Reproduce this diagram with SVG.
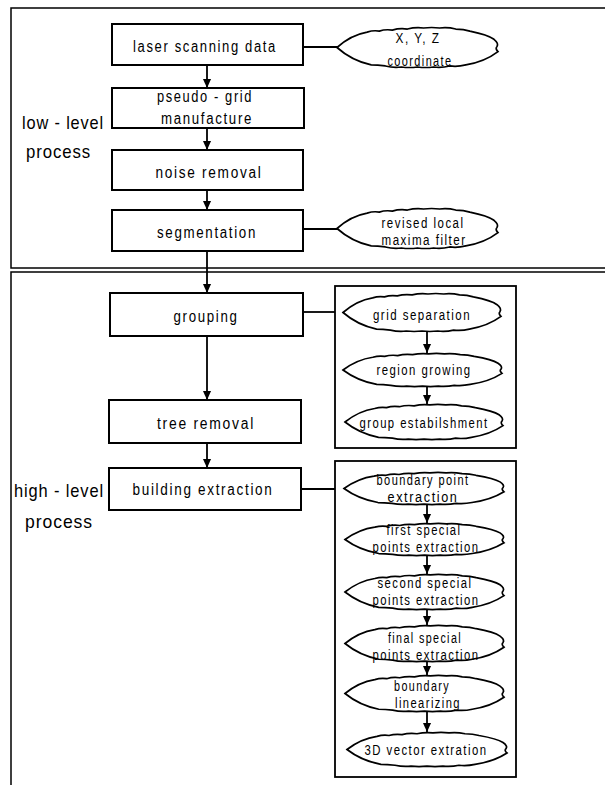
<svg xmlns="http://www.w3.org/2000/svg" xmlns:xlink="http://www.w3.org/1999/xlink" width="605" height="785" viewBox="0 0 605 785">
<style>
.frame{fill:none;stroke:#000;stroke-width:1.5}
.box{fill:#fff;stroke:#000;stroke-width:2}
.sub{fill:#fff;stroke:#000;stroke-width:1.8}
.cloud{fill:#fff;stroke:#000;stroke-width:1.7;vector-effect:non-scaling-stroke}
.ln{fill:none;stroke:#000;stroke-width:1.8}
.t{font-family:"Liberation Sans",Arial,sans-serif;font-size:16px;letter-spacing:2px;text-anchor:middle;fill:#000}
.c{font-family:"Liberation Sans",Arial,sans-serif;font-size:14px;letter-spacing:1.8px;text-anchor:middle;fill:#000}
.lab{font-family:"Liberation Sans",Arial,sans-serif;font-size:19px;letter-spacing:1px;fill:#000}
</style>
<defs>
<marker id="ah" viewBox="0 0 10 10" refX="10" refY="5" markerWidth="5" markerHeight="5" orient="auto" markerUnits="strokeWidth">
<path d="M0,0.5 L10,5 L0,9.5 Z" fill="#000"/>
</marker>
<symbol id="cl" viewBox="0 0 160 40" preserveAspectRatio="none" overflow="visible">
<path class="cloud" d="M0,20 C8,13 18,7 30,5 Q36,3 42,4 Q48,2 55,3 Q62,1 70,2 Q78,0 86,1 Q94,0 102,1 Q110,0 118,2 Q126,2 132,4 C142,6 152,9 156,12 Q161,16 159,19 Q157,21 160,24 C152,30 140,35 128,37 Q120,39 112,38 Q104,40 96,39 Q88,40 80,39 Q72,40 64,39 Q56,40 48,38 Q40,37 34,37 C20,34 8,27 0,20 Z"/>
</symbol>
</defs>
<rect width="605" height="785" fill="#fff"/>
<g id="frames">
<rect class="frame" x="11" y="8" width="700" height="260"/>
<rect class="frame" x="11" y="272" width="700" height="600"/>
<rect class="sub" x="335" y="286" width="181" height="162"/>
<rect class="sub" x="335" y="461" width="181" height="316"/>
</g>
<g id="labels">
<text class="lab" x="22" y="129" textLength="82" lengthAdjust="spacingAndGlyphs">low - level</text>
<text class="lab" x="26" y="158" textLength="65" lengthAdjust="spacingAndGlyphs">process</text>
<text class="lab" x="14" y="497" textLength="90" lengthAdjust="spacingAndGlyphs">high - level</text>
<text class="lab" x="25" y="528" textLength="68" lengthAdjust="spacingAndGlyphs">process</text>
</g>
<g id="connectors">
<line class="ln" x1="207" y1="65" x2="207" y2="88" marker-end="url(#ah)"/>
<line class="ln" x1="207" y1="128" x2="207" y2="150" marker-end="url(#ah)"/>
<line class="ln" x1="207" y1="190" x2="207" y2="210" marker-end="url(#ah)"/>
<line class="ln" x1="207" y1="251" x2="207" y2="293" marker-end="url(#ah)"/>
<line class="ln" x1="207" y1="336" x2="207" y2="400" marker-end="url(#ah)"/>
<line class="ln" x1="207" y1="443" x2="207" y2="468" marker-end="url(#ah)"/>
<line class="ln" x1="303" y1="47" x2="338" y2="47"/>
<line class="ln" x1="303" y1="229" x2="338" y2="229"/>
<line class="ln" x1="303" y1="312" x2="335" y2="312"/>
<line class="ln" x1="301" y1="489" x2="335" y2="489"/>
<line class="ln" x1="427" y1="332" x2="427" y2="353" marker-end="url(#ah)"/>
<line class="ln" x1="427" y1="387" x2="427" y2="404" marker-end="url(#ah)"/>
<line class="ln" x1="427" y1="505" x2="427" y2="523" marker-end="url(#ah)"/>
<line class="ln" x1="427" y1="556" x2="427" y2="574" marker-end="url(#ah)"/>
<line class="ln" x1="427" y1="610" x2="427" y2="625" marker-end="url(#ah)"/>
<line class="ln" x1="427" y1="662" x2="427" y2="675" marker-end="url(#ah)"/>
<line class="ln" x1="427" y1="712" x2="427" y2="732" marker-end="url(#ah)"/>
</g>
<g id="n-laser"><rect class="box" x="112" y="24" width="191" height="41"/><text class="t" x="205" y="52" textLength="144" lengthAdjust="spacingAndGlyphs">laser scanning data</text></g>
<g id="n-pseudo"><rect class="box" x="112" y="88" width="192" height="40"/><text class="t" x="205" y="102" textLength="96" lengthAdjust="spacingAndGlyphs">pseudo - grid</text><text class="t" x="207" y="124" textLength="92" lengthAdjust="spacingAndGlyphs">manufacture</text></g>
<g id="n-noise"><rect class="box" x="112" y="150" width="191" height="40"/><text class="t" x="209" y="178" textLength="107" lengthAdjust="spacingAndGlyphs">noise removal</text></g>
<g id="n-seg"><rect class="box" x="112" y="210" width="191" height="41"/><text class="t" x="207" y="238" textLength="100" lengthAdjust="spacingAndGlyphs">segmentation</text></g>
<g id="n-group"><rect class="box" x="110" y="293" width="193" height="43"/><text class="t" x="206" y="322" textLength="65" lengthAdjust="spacingAndGlyphs">grouping</text></g>
<g id="n-tree"><rect class="box" x="109" y="400" width="192" height="43"/><text class="t" x="206" y="429" textLength="98" lengthAdjust="spacingAndGlyphs">tree removal</text></g>
<g id="n-build"><rect class="box" x="109" y="468" width="192" height="42"/><text class="t" x="203" y="495" textLength="141" lengthAdjust="spacingAndGlyphs">building extraction</text></g>
<g id="e-xyz"><use xlink:href="#cl" x="337" y="27" width="161" height="41"/><text class="c" x="418" y="43" textLength="45" lengthAdjust="spacingAndGlyphs">X, Y, Z</text><text class="c" x="420" y="66" textLength="65" lengthAdjust="spacingAndGlyphs">coordinate</text></g>
<g id="e-rev"><use xlink:href="#cl" x="337" y="208" width="161" height="41"/><text class="c" x="423" y="228" textLength="83" lengthAdjust="spacingAndGlyphs">revised local</text><text class="c" x="424" y="245" textLength="85" lengthAdjust="spacingAndGlyphs">maxima filter</text></g>
<g id="e-grid"><use xlink:href="#cl" x="343" y="293" width="158" height="39"/><text class="c" x="422" y="320" textLength="98" lengthAdjust="spacingAndGlyphs">grid separation</text></g>
<g id="e-region"><use xlink:href="#cl" x="343" y="353" width="159" height="34"/><text class="c" x="424" y="375" textLength="95" lengthAdjust="spacingAndGlyphs">region growing</text></g>
<g id="e-gest"><use xlink:href="#cl" x="345" y="404" width="158" height="36"/><text class="c" x="424" y="428" textLength="129" lengthAdjust="spacingAndGlyphs">group estabilshment</text></g>
<g id="e-bpe"><use xlink:href="#cl" x="344" y="472" width="160" height="33"/><text class="c" x="423" y="485" textLength="93" lengthAdjust="spacingAndGlyphs">boundary point</text><text class="c" x="423" y="502" textLength="71" lengthAdjust="spacingAndGlyphs">extraction</text></g>
<g id="e-first"><use xlink:href="#cl" x="345" y="523" width="159" height="33"/><text class="c" x="424" y="535" textLength="75" lengthAdjust="spacingAndGlyphs">first special</text><text class="c" x="426" y="552" textLength="107" lengthAdjust="spacingAndGlyphs">points extraction</text></g>
<g id="e-second"><use xlink:href="#cl" x="345" y="574" width="159" height="36"/><text class="c" x="425" y="588" textLength="95" lengthAdjust="spacingAndGlyphs">second special</text><text class="c" x="426" y="605" textLength="107" lengthAdjust="spacingAndGlyphs">points extraction</text></g>
<g id="e-final"><use xlink:href="#cl" x="345" y="625" width="159" height="37"/><text class="c" x="425" y="643" textLength="74" lengthAdjust="spacingAndGlyphs">final special</text><text class="c" x="426" y="660" textLength="107" lengthAdjust="spacingAndGlyphs">points extraction</text></g>
<g id="e-blin"><use xlink:href="#cl" x="345" y="675" width="159" height="37"/><text class="c" x="422" y="691" textLength="56" lengthAdjust="spacingAndGlyphs">boundary</text><text class="c" x="428" y="708" textLength="66" lengthAdjust="spacingAndGlyphs">linearizing</text></g>
<g id="e-3d"><use xlink:href="#cl" x="347" y="732" width="160" height="35"/><text class="c" x="426" y="755" textLength="123" lengthAdjust="spacingAndGlyphs">3D vector extration</text></g>
</svg>
